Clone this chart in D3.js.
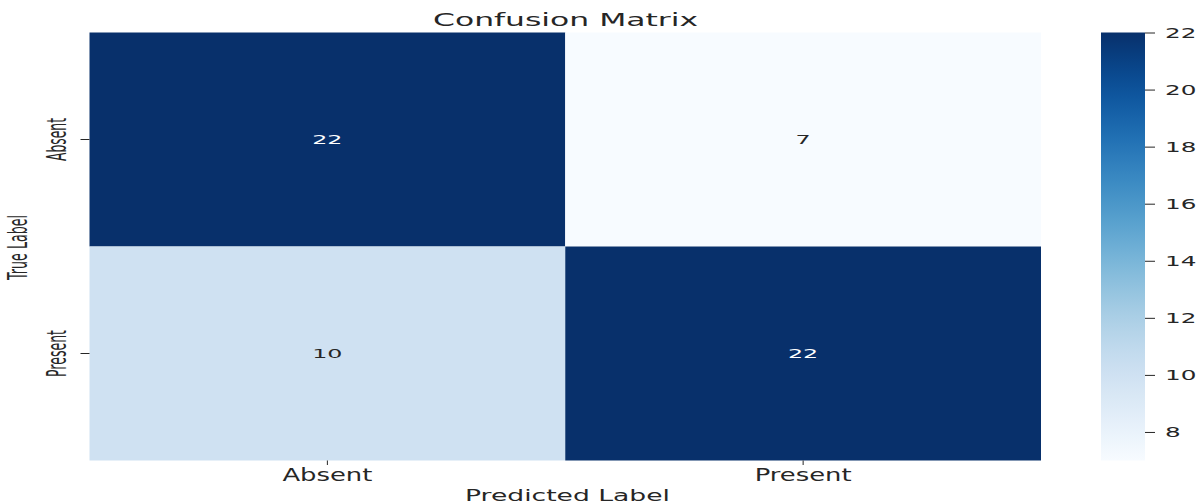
<!DOCTYPE html>
<html><head><meta charset="utf-8">
<script src="https://cdn.jsdelivr.net/npm/d3@7"></script>
<style>html,body{margin:0;padding:0;background:#fff;overflow:hidden}svg{display:block}</style>
</head><body>
<svg id="chart" width="1202" height="502"></svg>
<script>
const categories = ["Absent", "Present"];
const trueLabels = ["Absent", "Present"];
const predLabels = ["Absent", "Present"];
const matrixValues = [[22, 7], [10, 22]];
const colorbarTicks = [8, 10, 12, 14, 16, 18, 20, 22];
const colorDomain = [7, 22];
const titleText = "Confusion Matrix";
const xLabelText = "Predicted Label";
const yLabelText = "True Label";

const svg = d3.select("#chart");
const font = "DejaVu Sans";
const textCol = "#262626";

const x = d3.scaleBand().domain(predLabels).range([89.5, 1041]).padding(0);
const y = d3.scaleBand().domain(trueLabels).range([32.5, 460.5]).padding(0);
const color = d3.scaleSequential(d3.interpolateBlues).domain(colorDomain);

function stretch(sel, ratio) {
  sel.each(function () {
    const n = this.getComputedTextLength();
    d3.select(this).attr("textLength", n * ratio).attr("lengthAdjust", "spacingAndGlyphs");
  });
}

const cells = [];
trueLabels.forEach((t, i) => predLabels.forEach((p, j) => cells.push({ t, p, v: matrixValues[i][j] })));

svg.append("g").selectAll("rect").data(cells).join("rect")
  .attr("x", d => x(d.p)).attr("y", d => y(d.t))
  .attr("width", x.bandwidth()).attr("height", y.bandwidth())
  .attr("fill", d => color(d.v));

const ann = svg.append("g").selectAll("text").data(cells).join("text")
  .attr("x", d => x(d.p) + x.bandwidth() / 2)
  .attr("y", d => y(d.t) + y.bandwidth() / 2 + 4.5)
  .attr("text-anchor", "middle")
  .attr("font-family", font).attr("font-size", 12.5)
  .attr("fill", d => (d.v - colorDomain[0]) / (colorDomain[1] - colorDomain[0]) > 0.5 ? "#ffffff" : textCol)
  .text(d => d.v);
stretch(ann, 1.9);

// x axis
const xAxis = svg.append("g").attr("transform", "translate(0,460.5)")
  .call(d3.axisBottom(x).tickSize(4.5).tickPadding(4));
xAxis.select(".domain").remove();
xAxis.selectAll(".tick line").attr("stroke", textCol).attr("stroke-width", 1);
const xt = xAxis.selectAll(".tick text").attr("font-family", font).attr("font-size", 17)
  .attr("fill", textCol).attr("dy", null).attr("y", 20.5);
stretch(xt, 1.52);

// y axis
const yAxis = svg.append("g").attr("transform", "translate(89.5,0)")
  .call(d3.axisLeft(y).tickSize(9).tickPadding(0));
yAxis.select(".domain").remove();
yAxis.selectAll(".tick line").attr("stroke", textCol).attr("stroke-width", 1);
yAxis.selectAll(".tick text").remove();
yAxis.selectAll(".tick").append("text")
  .attr("transform", "translate(-24,0) rotate(-90)")
  .attr("text-anchor", "middle")
  .attr("font-family", font).attr("font-size", 27)
  .attr("fill", textCol)
  .text(d => d)
  .each(function (d) {
    d3.select(this).attr("textLength", d === "Absent" ? 43 : 47).attr("lengthAdjust", "spacingAndGlyphs");
  });

// title
svg.append("text").attr("x", 565.5).attr("y", 25.5)
  .attr("text-anchor", "middle").attr("font-family", font).attr("font-size", 17.4)
  .attr("fill", textCol).text(titleText)
  .attr("textLength", 265).attr("lengthAdjust", "spacingAndGlyphs");

// x label
svg.append("text").attr("x", 567.5).attr("y", 501)
  .attr("text-anchor", "middle").attr("font-family", font).attr("font-size", 16.5)
  .attr("fill", textCol).text(xLabelText)
  .attr("textLength", 205).attr("lengthAdjust", "spacingAndGlyphs");

// y label
svg.append("text").attr("transform", "translate(26.5,247.5) rotate(-90)")
  .attr("text-anchor", "middle").attr("font-family", font).attr("font-size", 27)
  .attr("fill", textCol).text(yLabelText)
  .attr("textLength", 65).attr("lengthAdjust", "spacingAndGlyphs");

// colorbar
const cbX = 1101, cbW = 44;
const cbScale = d3.scaleLinear().domain(colorDomain).range([460.5, 32.5]);
const defs = svg.append("defs");
const grad = defs.append("linearGradient").attr("id", "cbgrad")
  .attr("x1", 0).attr("y1", 1).attr("x2", 0).attr("y2", 0);
d3.range(0, 1.0001, 0.05).forEach(t => {
  grad.append("stop").attr("offset", t).attr("stop-color", color(colorDomain[0] + t * (colorDomain[1] - colorDomain[0])));
});
svg.append("rect").attr("x", cbX).attr("y", cbScale(colorDomain[1]))
  .attr("width", cbW).attr("height", cbScale(colorDomain[0]) - cbScale(colorDomain[1]))
  .attr("fill", "url(#cbgrad)");
const cbAxis = svg.append("g").attr("transform", `translate(${cbX + cbW},0)`)
  .call(d3.axisRight(cbScale).tickValues(colorbarTicks).tickSize(10).tickPadding(10));
cbAxis.select(".domain").remove();
cbAxis.selectAll(".tick line").attr("stroke", textCol);
const cbt = cbAxis.selectAll(".tick text").attr("font-family", font).attr("font-size", 14.5)
  .attr("fill", textCol);
stretch(cbt, 1.7);
</script>
</body></html>
